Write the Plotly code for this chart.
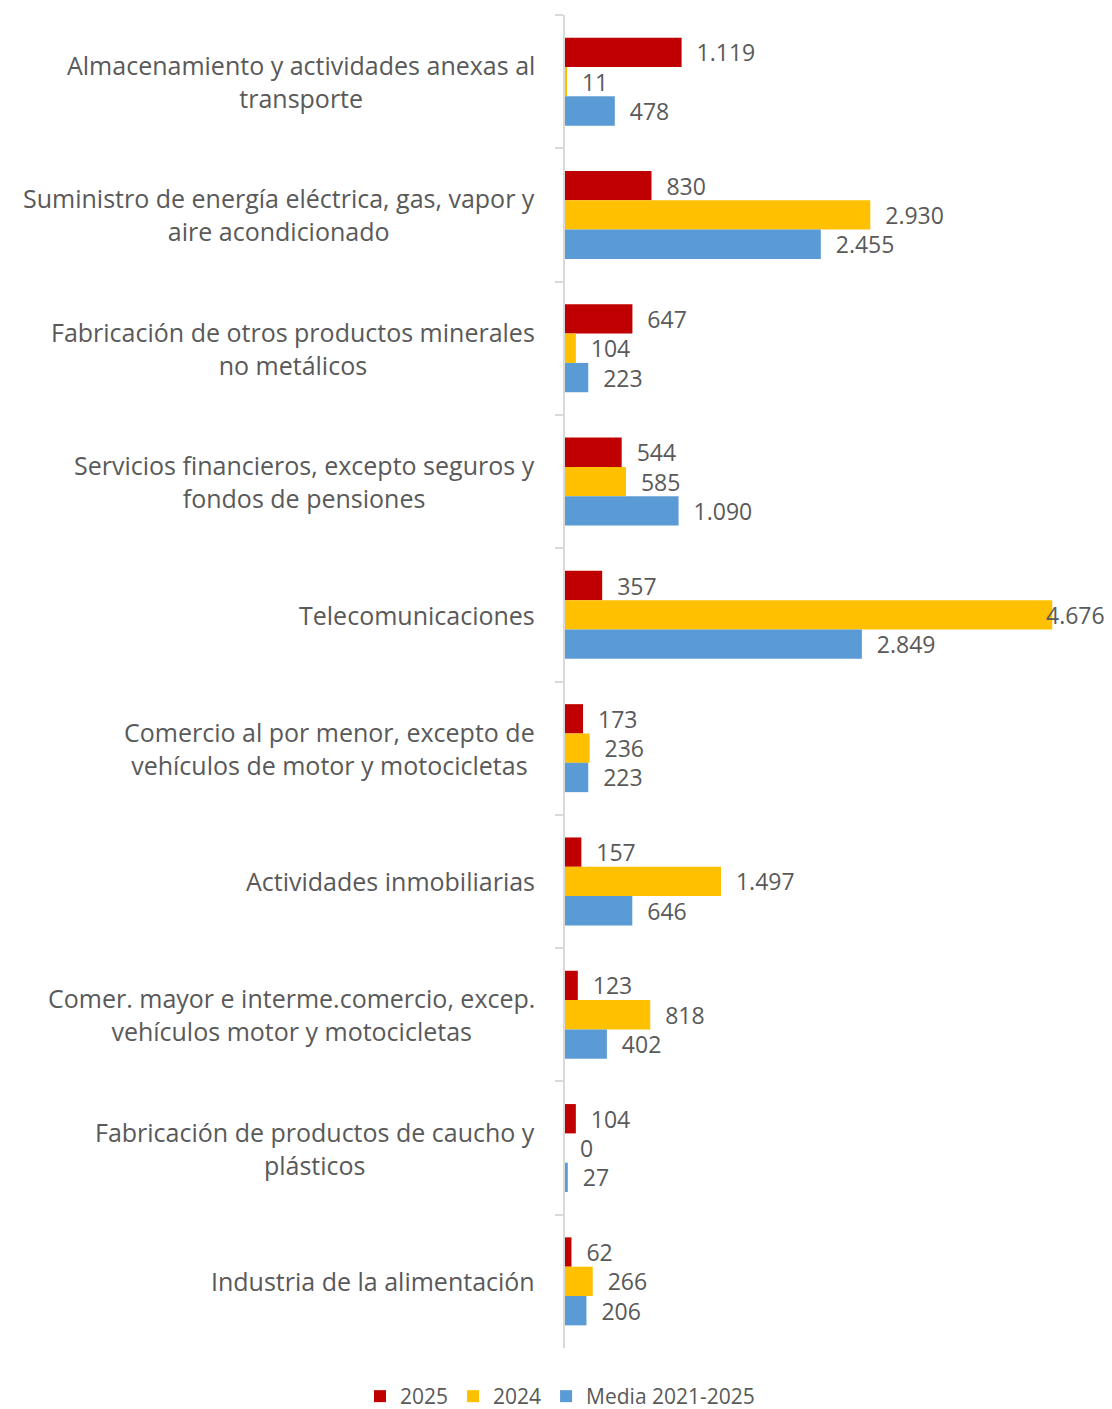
import plotly.graph_objects as go

# Data ------------------------------------------------------------------
categories = [
    "Almacenamiento y actividades anexas al<br>transporte",
    "Suministro de energía eléctrica, gas, vapor y<br>aire acondicionado",
    "Fabricación de otros productos minerales<br>no metálicos",
    "Servicios financieros, excepto seguros y<br>fondos de pensiones",
    "Telecomunicaciones",
    "Comercio al por menor, excepto de<br>vehículos de motor y motocicletas",
    "Actividades inmobiliarias",
    "Comer. mayor e interme.comercio, excep.<br>vehículos motor y motocicletas",
    "Fabricación de productos de caucho y<br>plásticos",
    "Industria de la alimentación",
]
values_2025 = [1119, 830, 647, 544, 357, 173, 157, 123, 104, 62]
values_2024 = [11, 2930, 104, 585, 4676, 236, 1497, 818, 0, 266]
values_media = [478, 2455, 223, 1090, 2849, 223, 646, 402, 27, 206]

series = [
    ("2025", values_2025, "#C00000"),
    ("2024", values_2024, "#FFC000"),
    ("Media 2021-2025", values_media, "#5B9BD5"),
]

TEXT_COLOR = "#595959"
FONT = "Open Sans"
X_MAX = 5000
PAD = "\u00a0\u00a0"
# ----------------------------------------------------------------------

fig = go.Figure()
for name, vals, color in series:
    # a label that would run past the plot edge is drawn as an annotation instead
    labels = ["" if v > 0.9 * X_MAX else PAD + f"{v:,}".replace(",", ".") for v in vals]
    fig.add_trace(go.Bar(
        name=name,
        y=categories,
        x=vals,
        orientation="h",
        marker=dict(color=color, line=dict(width=0)),
        text=labels,
        textposition="outside",
        constraintext="none",
        cliponaxis=False,
        textfont=dict(family=FONT, size=23, color=TEXT_COLOR),
    ))
    for cat, v in zip(categories, vals):
        if v > 0.9 * X_MAX:
            fig.add_annotation(
                x=v, y=cat, xref="x", yref="y",
                text=f"{v:,}".replace(",", "."), showarrow=False,
                xanchor="left", xshift=-8,
                font=dict(family=FONT, size=23, color=TEXT_COLOR),
            )

# centred, wrapped category labels
for cat in categories:
    fig.add_annotation(
        x=0, y=cat, xref="x", yref="y",
        text=cat, showarrow=False,
        xanchor="right", xshift=-28, align="center",
        font=dict(family=FONT, size=25, color=TEXT_COLOR),
    )

fig.update_layout(
    width=1104, height=1409,
    margin=dict(l=557, r=26, t=7, b=69),
    paper_bgcolor="white", plot_bgcolor="white",
    barmode="group", bargap=0.34, bargroupgap=0,
    font=dict(family=FONT, color=TEXT_COLOR),
    showlegend=True,
    legend=dict(
        orientation="h",
        xref="container", yref="container",
        x=0.5, xanchor="center", y=0, yanchor="bottom",
        font=dict(family=FONT, size=21, color=TEXT_COLOR),
        itemwidth=30,
    ),
)
fig.update_xaxes(range=[0, X_MAX], visible=False, showgrid=False, zeroline=False)
fig.update_yaxes(
    autorange="reversed",
    showticklabels=False,
    showline=True, linecolor="#D9D9D9", linewidth=2,
    ticks="outside", tickson="boundaries", ticklen=8, tickcolor="#D9D9D9", tickwidth=2,
    showgrid=False,
)

fig.write_html("out.html")
